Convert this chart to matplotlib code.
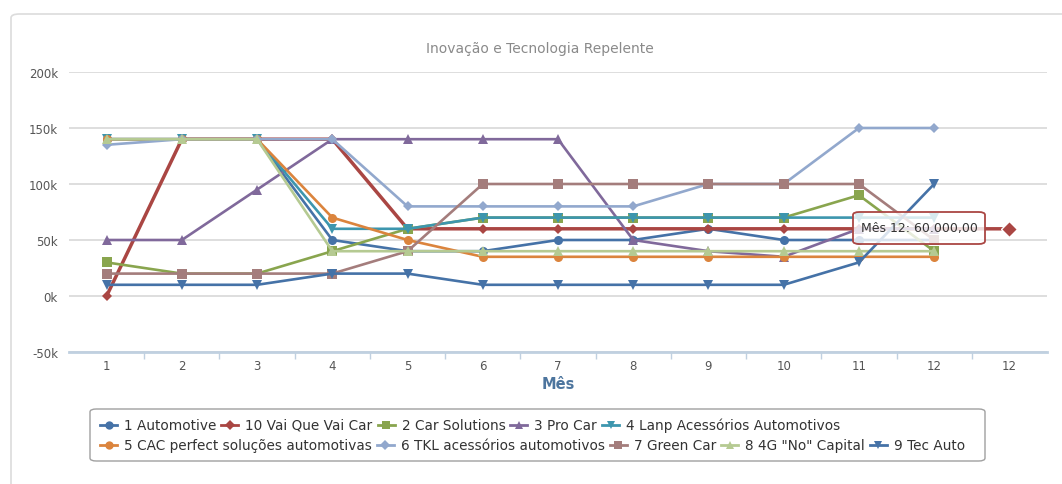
import matplotlib.pyplot as plt
from matplotlib.lines import Line2D
from matplotlib.patches import FancyBboxPatch
from matplotlib.ticker import FuncFormatter, FixedLocator

plt.rcParams['font.family'] = ['DejaVu Sans']

# categorias do eixo x (o último ponto aparece rotulado como 12 também)
meses = ["1", "2", "3", "4", "5", "6", "7", "8", "9", "10", "11", "12", "12"]

# valores mensais por empresa
automotive_1 = [140000, 140000, 140000, 50000, 40000, 40000, 50000, 50000, 60000, 50000, 50000, 50000]
vai_que_vai_10 = [0, 140000, 140000, 140000, 60000, 60000, 60000, 60000, 60000, 60000, 60000, 60000, 60000]
car_solutions_2 = [30000, 20000, 20000, 40000, 60000, 70000, 70000, 70000, 70000, 70000, 90000, 40000]
pro_car_3 = [50000, 50000, 95000, 140000, 140000, 140000, 140000, 50000, 40000, 35000, 60000, 60000]
lanp_4 = [140000, 140000, 140000, 60000, 60000, 70000, 70000, 70000, 70000, 70000, 70000, 70000]
cac_5 = [140000, 140000, 140000, 70000, 50000, 35000, 35000, 35000, 35000, 35000, 35000, 35000]
tkl_6 = [135000, 140000, 140000, 140000, 80000, 80000, 80000, 80000, 100000, 100000, 150000, 150000]
green_car_7 = [20000, 20000, 20000, 20000, 40000, 100000, 100000, 100000, 100000, 100000, 100000, 50000]
no_capital_8 = [140000, 140000, 140000, 40000, 40000, 40000, 40000, 40000, 40000, 40000, 40000, 40000]
tec_auto_9 = [10000, 10000, 10000, 20000, 20000, 10000, 10000, 10000, 10000, 10000, 30000, 100000]

series = [
    ("1 Automotive", automotive_1, "#4572A7", "o"),
    ("10 Vai Que Vai Car", vai_que_vai_10, "#AA4643", "D"),
    ("2 Car Solutions", car_solutions_2, "#89A54E", "s"),
    ("3 Pro Car", pro_car_3, "#80699B", "^"),
    ("4 Lanp Acessórios Automotivos", lanp_4, "#3D96AE", "v"),
    ("5 CAC perfect soluções automotivas", cac_5, "#DB843D", "o"),
    ("6 TKL acessórios automotivos", tkl_6, "#92A8CD", "D"),
    ("7 Green Car", green_car_7, "#A47D7C", "s"),
    ("8 4G \"No\" Capital", no_capital_8, "#B5CA92", "^"),
    ("9 Tec Auto", tec_auto_9, "#4572A7", "v"),
]

W, H = 1062, 485
fig = plt.figure(figsize=(W / 100, H / 100), dpi=100)


def fx(px):
    return px / W


def fy(py):
    return 1 - py / H


# moldura do painel
painel = FancyBboxPatch((fx(11), fy(500)), fx(1070), fy(15) - fy(500),
                        boxstyle="round,pad=0,rounding_size=0.008",
                        transform=fig.transFigure, fc="white", ec="#dcdcdc", lw=1.2, zorder=-10)
fig.patches.append(painel)

ax = fig.add_axes([fx(69), fy(353), fx(1047) - fx(69), fy(73) - fy(353)])
ax.set_facecolor("none")

for nome, vals, cor, mk in series:
    x = list(range(1, len(vals) + 1))
    lw = 2.5 if nome.startswith("10 ") else 1.9
    ax.plot(x, vals, color=cor, lw=lw, marker=mk,
            markersize=6.5 if mk != "D" else 5.5, markeredgewidth=0, zorder=3)

# ponto destacado do tooltip
ax.plot([13], [vai_que_vai_10[12]], marker="D", markersize=8, color="#AA4643",
        markeredgecolor="white", markeredgewidth=1, zorder=6)

ax.set_xlim(0.5, 13.5)
ax.set_ylim(-50000, 200000)
ax.set_yticks([-50000, 0, 50000, 100000, 150000, 200000])
ax.yaxis.set_major_formatter(FuncFormatter(lambda v, p: f"{int(v / 1000)}k"))
ax.grid(axis="y", color="#d8d8d8", lw=1.2)
ax.set_axisbelow(True)
ax.tick_params(axis="y", length=0, pad=8, labelsize=8.5, labelcolor="#555555")

ax.set_xticks(range(1, 14))
ax.set_xticklabels(meses)
ax.xaxis.set_minor_locator(FixedLocator([i + 0.5 for i in range(1, 13)]))
ax.tick_params(axis="x", which="major", length=0, pad=5, labelsize=8.5, labelcolor="#555555")
ax.tick_params(axis="x", which="minor", length=5, width=1, color="#c0d0e0")

for lado in ["top", "right", "left"]:
    ax.spines[lado].set_visible(False)
ax.spines["bottom"].set_color("#c0d0e0")
ax.spines["bottom"].set_linewidth(2)

ax.set_xlabel("Mês", fontsize=10.5, fontweight="bold", color="#4d759e", labelpad=3)

fig.text(fx(540), fy(49), "Inovação e Tecnologia Repelente", ha="center", va="center",
         fontsize=10, color="#8a8a8a")

# tooltip
tip = FancyBboxPatch((fx(853), fy(245)), fx(985) - fx(853), fy(213) - fy(245),
                     boxstyle="round,pad=0,rounding_size=0.006",
                     transform=fig.transFigure, fc=(1, 1, 1, 0.8), ec="#AA4643", lw=1.3, zorder=10)
fig.patches.append(tip)
fig.text(fx(919), fy(229), "Mês 12: 60.000,00", ha="center", va="center",
         fontsize=9, color="#333333", zorder=11)

# legenda desenhada item a item, em duas linhas
leg_box = FancyBboxPatch((fx(90), fy(462)), fx(985) - fx(90), fy(410) - fy(462),
                         boxstyle="round,pad=0,rounding_size=0.006",
                         transform=fig.transFigure, fc="white", ec="#a0a0a0", lw=1, zorder=-5)
fig.patches.append(leg_box)

renderer = fig.canvas.get_renderer()
linhas = [series[:5], series[5:]]
for i, linha in enumerate(linhas):
    y = 426 + i * 20
    xpos = 100
    for nome, vals, cor, mk in linha:
        fig.add_artist(Line2D([fx(xpos), fx(xpos + 17)], [fy(y), fy(y)], transform=fig.transFigure,
                              color=cor, lw=2))
        fig.add_artist(Line2D([fx(xpos + 8.5)], [fy(y)], transform=fig.transFigure,
                              color=cor, marker=mk, markersize=6 if mk != "D" else 5,
                              markeredgewidth=0))
        t = fig.text(fx(xpos + 24), fy(y), nome, ha="left", va="center",
                     fontsize=9.8, color="#333333")
        larg = t.get_window_extent(renderer).width
        xpos = xpos + 24 + larg + 5

fig.savefig("out.png", dpi=100)
